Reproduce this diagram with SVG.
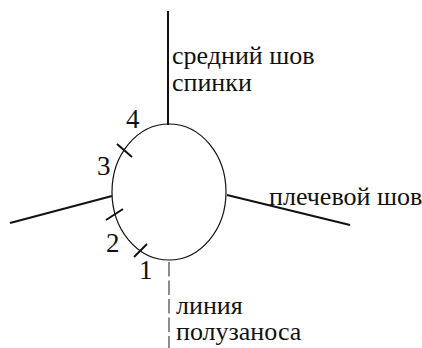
<svg xmlns="http://www.w3.org/2000/svg" width="422" height="348" viewBox="0 0 422 348">
<style>
text{font-family:"Liberation Serif",serif;fill:#111}
.l{font-size:26px}
.n{font-size:27px}
.s{fill:none;stroke:#111;stroke-width:2}
</style>
<rect width="422" height="348" fill="#fff"/>
<g id="connectors">
<line class="s" x1="168" y1="11" x2="168" y2="125"/>
<line class="s" x1="227" y1="195" x2="350" y2="225"/>
<line class="s" x1="10" y1="223" x2="112" y2="196"/>
<line x1="169" y1="262" x2="169" y2="348" fill="none" stroke="#666" stroke-width="1.5" stroke-dasharray="14.5 4"/>
<line class="s" x1="117" y1="144" x2="132" y2="157"/>
<line class="s" x1="106" y1="220" x2="123" y2="209"/>
<line class="s" x1="134" y1="257" x2="147" y2="244"/>
</g>
<g id="armhole"><ellipse cx="169" cy="192" rx="57" ry="68" fill="none" stroke="#111" stroke-width="1.2"/></g>
<g id="n1"><text class="n" x="139" y="279">1</text></g>
<g id="n2"><text class="n" x="106" y="252">2</text></g>
<g id="n3"><text class="n" x="97" y="175">3</text></g>
<g id="n4"><text class="n" x="126" y="128">4</text></g>
<g id="label-back"><text class="l" x="172" y="64">средний шов</text><text class="l" x="172" y="91">спинки</text></g>
<g id="label-shoulder"><text class="l" x="269" y="205">плечевой шов</text></g>
<g id="label-line"><text class="l" x="176" y="314">линия</text><text class="l" x="176" y="340">полузаноса</text></g>
</svg>
